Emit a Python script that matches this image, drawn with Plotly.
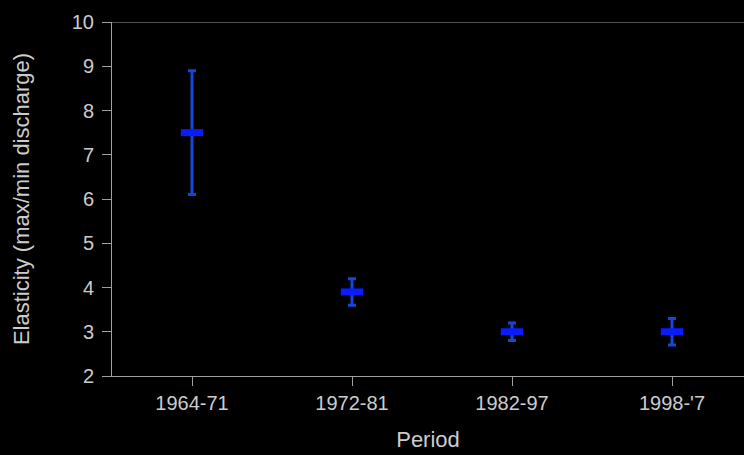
import plotly.graph_objects as go

periods = ["1964-71", "1972-81", "1982-97", "1998-'7"]
elasticity = [7.5, 3.9, 3.0, 3.0]
upper = [8.9, 4.2, 3.2, 3.3]
lower = [6.1, 3.6, 2.8, 2.7]

err_plus = [u - v for u, v in zip(upper, elasticity)]
err_minus = [v - l for v, l in zip(elasticity, lower)]

fig = go.Figure()
fig.add_trace(go.Scatter(
    x=periods, y=elasticity, mode="markers",
    marker=dict(symbol="line-ew", size=16, color="#0a1cff",
                line=dict(color="#0a1cff", width=7)),
    error_y=dict(type="data", symmetric=False, array=err_plus, arrayminus=err_minus,
                 color="#1448d8", thickness=3, width=4),
    showlegend=False,
))

axis_color = "#a0a0a0"
font_color = "#cccccc"
fig.update_layout(
    width=744, height=455,
    paper_bgcolor="black", plot_bgcolor="black",
    margin=dict(l=112, r=0, t=22, b=79),
    font=dict(family="Liberation Sans, Arial, sans-serif", size=20, color=font_color),
    xaxis=dict(range=[-0.5, 3.45], showgrid=False, zeroline=False,
               showline=True, linecolor=axis_color, linewidth=1, mirror=False,
               ticks="outside", ticklen=9, tickcolor=axis_color,
               tickfont=dict(size=20, color=font_color),
               title=dict(text="Period", font=dict(size=22, color=font_color), standoff=18)),
    yaxis=dict(range=[2, 10], dtick=1, showgrid=False, zeroline=False,
               showline=True, linecolor=axis_color, linewidth=1,
               ticks="outside", ticklen=9, tickcolor=axis_color,
               ticklabelstandoff=4,
               tickfont=dict(size=20, color=font_color),
               title=dict(text="Elasticity (max/min discharge)", font=dict(size=22, color=font_color), standoff=36)),
)
fig.add_shape(type="line", xref="paper", yref="y", x0=0, x1=1, y0=10, y1=10,
              line=dict(color=axis_color, width=1))

fig.write_html("out.html")
